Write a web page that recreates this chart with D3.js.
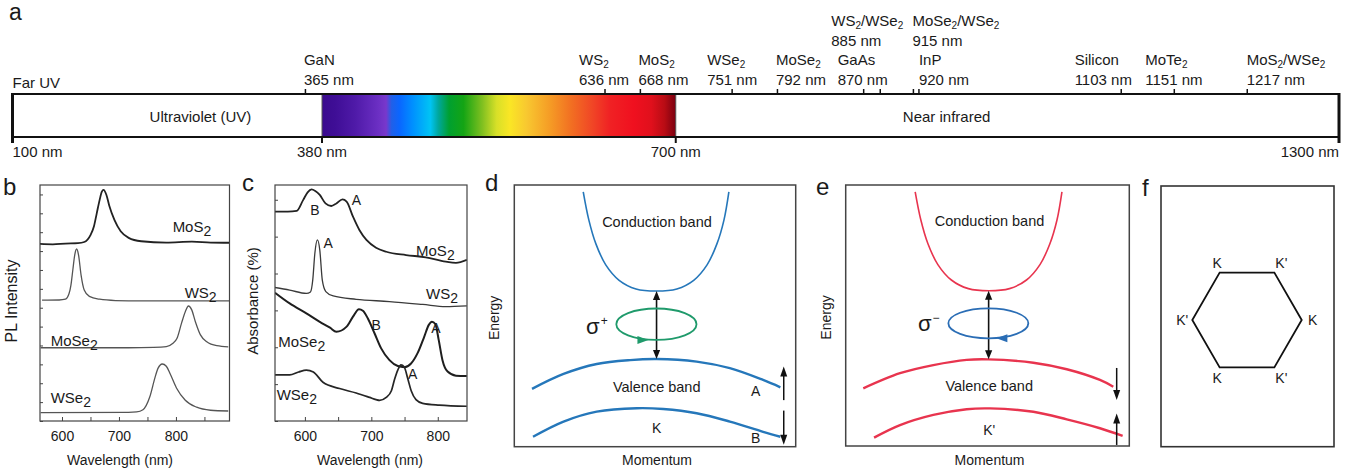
<!DOCTYPE html>
<html><head><meta charset="utf-8">
<script src="https://cdn.jsdelivr.net/npm/d3@7"></script>
<style>
body{margin:0;background:#fff;}
svg text{font-family:"Liberation Sans", Arial, Helvetica, sans-serif; fill:#1a1a1a;}
</style></head><body>
<svg id="fig" width="1353" height="471" xmlns="http://www.w3.org/2000/svg"></svg>
<script>
// ================= DATA =================
// ---- Panel a: electromagnetic spectrum bar ----
const spectrumRangeNm = [100, 1300];
const visibleRangeNm = [380, 700];
const edgeTickNm = [100, 380, 700, 1300];
const edgeTickLabels = ["100 nm", "380 nm", "700 nm", "1300 nm"];
const regionNames = ["Far UV", "Ultraviolet (UV)", "Near infrared"];
const materialNames = ["GaN", "WS2", "MoS2", "WSe2", "MoSe2", "GaAs", "WS2/WSe2", "MoSe2/WSe2", "InP", "Silicon", "MoTe2", "MoS2/WSe2"];
const materialNm = [365, 636, 668, 751, 792, 870, 885, 915, 920, 1103, 1151, 1217];
const visibleStopNm = [380, 392, 410, 430, 438, 443, 450, 462, 478, 485, 495, 508, 525, 538, 550, 565, 587, 605, 625, 640, 662, 678, 690, 700];
const visibleStopColor = ["#3a0a8e", "#3f0e96", "#4f1aa8", "#6a2ec2", "#7838cc", "#2060e8", "#0a66ff", "#0090ff", "#00c4f4", "#00a8a0", "#00a030", "#14a414", "#80c020", "#d8e028", "#fae625", "#f8c830", "#f59a25", "#f27022", "#f04526", "#f02224", "#f0101f", "#e0101c", "#b80c14", "#7a0010"];

// ---- Panel b: PL spectra (wavelength nm, intensity a.u., stacked) ----
const plRangeNm = [561.4, 894];
const plRangeAU = [0, 12.5];
const plTickNm = [600, 650, 700, 750, 800, 850];
const plTickLabelNm = [600, 700, 800];
const plTickAU = [0,1,2,3,4,5,6,7,8,9,10,11,12];
const plNames = ["MoS2", "WS2", "MoSe2", "WSe2"];
const plMoS2 = [[561,9.38],[584,9.36],[606,9.40],[628,9.42],[639,9.48],[650,9.85],[656,10.3],[661,11.0],[666,11.7],[670,12.15],[673,12.24],[678,11.97],[683,11.4],[692,10.65],[703,10.05],[717,9.7],[739,9.52],[783,9.45],[828,9.5],[861,9.45],[894,9.44]];
const plWS2 = [[565,6.40],[595,6.41],[606,6.45],[612.4,6.75],[615.7,7.2],[619,8.0],[622.4,8.8],[625.7,9.11],[629,8.8],[633.5,7.73],[639,6.94],[648,6.6],[666,6.45],[694,6.38],[739,6.36],[894,6.36]];
const plMoSe2 = [[562.5,3.88],[716.6,3.88],[760.9,3.9],[783.1,3.94],[794.2,4.1],[801.9,4.38],[809.7,5.17],[816.4,5.79],[821.9,6.09],[827.5,5.9],[834.1,5.26],[843,4.56],[854.1,4.2],[871.8,3.99],[891.8,3.93]];
const plWSe2 = [[562.5,0.44],[716.6,0.46],[731,0.48],[742.1,0.6],[754.3,1.3],[763.2,2.3],[768.7,2.8],[775.9,3.02],[783.1,2.9],[789.8,2.5],[800.9,1.75],[816.4,1.1],[836.3,0.73],[860.7,0.57],[891.8,0.53]];

// ---- Panel c: absorbance spectra (wavelength nm, absorbance a.u., stacked) ----
const absRangeNm = [555, 844];
const absRangeAU = [0, 6.4];
const absTickNm = [600, 650, 700, 750, 800];
const absTickLabelNm = [600, 700, 800];
const absTickAU = [0,1,2,3,4,5,6];
const absNames = ["MoS2", "WS2", "MoSe2", "WSe2"];
const absMoS2 = [[555,5.68],[574.2,5.68],[587.7,5.70],[597.3,5.99],[604.1,6.2],[609.9,6.28],[615.6,6.24],[622.4,6.13],[631,5.9],[639.7,5.83],[647.4,5.90],[656.5,6.01],[662.8,5.95],[672.4,5.54],[682,5.18],[692.6,4.91],[707.1,4.70],[722.5,4.59],[752.3,4.50],[782.1,4.44],[812,4.32],[827.4,4.29],[843.7,4.37]];
const absWS2 = [[555,3.62],[577.1,3.55],[602.2,3.46],[608.4,3.5],[611.8,3.82],[615,4.55],[618.9,4.91],[622.4,4.64],[626.2,3.82],[631.5,3.51],[642.6,3.39],[677.2,3.30],[727.3,3.24],[777.3,3.16],[812,3.10],[843.7,3.12]];
const absMoSe2 = [[555,3.48],[577.1,3.19],[602.2,2.92],[622.4,2.69],[637.8,2.53],[647.4,2.42],[662.8,2.56],[672.4,2.83],[681.4,3.03],[687.3,2.99],[694.8,2.78],[704.8,2.38],[714.8,1.97],[727.3,1.65],[739.8,1.49],[749.8,1.46],[759.8,1.56],[769.6,1.84],[779.7,2.29],[786.3,2.60],[791.3,2.69],[796.3,2.63],[801.4,2.20],[807.1,1.65],[814.8,1.34],[827.4,1.23],[843.7,1.22]];
const absWSe2 = [[555,1.25],[577.1,1.25],[590.6,1.33],[602.2,1.38],[612.7,1.33],[627.2,1.05],[652.2,0.88],[677.2,0.76],[697.4,0.64],[707.1,0.58],[712.4,0.56],[722.5,0.64],[730.2,0.82],[735,1.13],[739.8,1.38],[744.6,1.52],[749.4,1.47],[754.8,1.15],[760,0.82],[767.2,0.58],[777.3,0.48],[802.3,0.43],[843.7,0.40]];
const absPeakNames = ["B", "A", "A", "B", "A", "A"];

// ---- Panels d, e: band schematics (momentum, energy; arbitrary units) ----
const momentumRange = [-1, 1];
const energyRange = [0, 10];
const conductionBand = [[-0.51,9.74],[-0.47,8.66],[-0.42,7.75],[-0.35,6.95],[-0.255,6.36],[-0.135,6.03],[0.01,5.95],[0.155,6.03],[0.275,6.36],[0.37,6.95],[0.44,7.75],[0.49,8.66],[0.525,9.74]];
const valenceUpperK = [[-0.874,2.21],[-0.65,2.78],[-0.414,3.16],[-0.177,3.31],[0.012,3.35],[0.296,3.25],[0.532,3.0],[0.768,2.55],[0.891,2.27]];
const valenceLowerK = [[-0.867,0.38],[-0.65,0.96],[-0.414,1.34],[-0.13,1.47],[0.059,1.44],[0.296,1.28],[0.532,0.96],[0.768,0.57],[0.891,0.38]];
const valenceUpperKp = [[-0.876,2.21],[-0.617,2.79],[-0.382,3.10],[-0.147,3.30],[0.006,3.32],[0.323,3.19],[0.559,2.94],[0.793,2.53],[0.887,2.27]];
const valenceLowerKp = [[-0.8,0.32],[-0.617,0.80],[-0.382,1.19],[-0.147,1.41],[0.018,1.44],[0.323,1.31],[0.559,1.02],[0.793,0.68],[0.953,0.39]];
const bandNames = ["Conduction band", "Valence band"];
const valleyNames = ["K", "K'"];
const polarization = ["+", "\u2212"];
// circular polarization ellipse: centre momentum, centre energy, half-width, half-height
const ellipseK = [0.01, 4.68, 0.285, 0.60];
const ellipseKp = [0.006, 4.70, 0.282, 0.575];
// spin arrows: [momentum, energy from, energy to]
const spinK = [[0.915, 1.78, 3.06], [0.915, 1.38, 0.07]];
const spinKp = [[0.911, 2.99, 1.76], [0.911, 0.04, 1.25]];
const spinNamesK = ["A", "B"];

// ---- Panel f: Brillouin zone ----
const hexVertices = [[1,0],[0.5,0.866],[-0.5,0.866],[-1,0],[-0.5,-0.866],[0.5,-0.866]];
const hexLabels = ["K", "K'", "K", "K'", "K", "K'"];

// ================= DRAWING =================
const svg = d3.select("#fig");
const defs = svg.append("defs");

function richText(g, str, x, y, size, anchor, subSize, subDy) {
  const t = g.append("text").attr("x", x).attr("y", y).attr("font-size", size).attr("text-anchor", anchor || "start");
  const parts = str.match(/\d+|\D+/g);
  let shifted = false;
  parts.forEach(p => {
    const ts = t.append("tspan").text(p);
    if (/^\d+$/.test(p)) { ts.attr("dy", subDy).attr("font-size", subSize); shifted = true; }
    else if (shifted) { ts.attr("dy", -subDy); shifted = false; }
  });
  return t;
}
function head(g, x, y, dx, dy, len, half, color) {
  const n = Math.hypot(dx, dy); dx /= n; dy /= n;
  const bx = x - dx * len, by = y - dy * len, px = -dy, py = dx;
  g.append("path").attr("d", `M${x},${y}L${bx + px * half},${by + py * half}L${bx - px * half},${by - py * half}Z`).attr("fill", color);
}
function letter(txt, x, y, size) {
  svg.append("text").attr("x", x).attr("y", y).attr("font-size", size || 24).text(txt);
}

// ---------- Panel a ----------
(function () {
  const g = svg.append("g");
  const x = d3.scaleLinear().domain(spectrumRangeNm).range([12.5, 1339]);
  const top = 94, bot = 137;
  const grad = defs.append("linearGradient").attr("id", "vis").attr("gradientUnits", "userSpaceOnUse")
    .attr("x1", x(visibleRangeNm[0])).attr("x2", x(visibleRangeNm[1])).attr("y1", 0).attr("y2", 0);
  visibleStopNm.forEach((nm, i) => grad.append("stop")
    .attr("offset", (nm - visibleRangeNm[0]) / (visibleRangeNm[1] - visibleRangeNm[0]))
    .attr("stop-color", visibleStopColor[i]));
  g.append("rect").attr("x", x(visibleRangeNm[0])).attr("y", top).attr("width", x(visibleRangeNm[1]) - x(visibleRangeNm[0]))
    .attr("height", bot - top).attr("fill", "url(#vis)");
  visibleRangeNm.forEach(v => g.append("line").attr("x1", x(v)).attr("x2", x(v)).attr("y1", top).attr("y2", bot).attr("stroke", "#555").attr("stroke-width", 1));
  [top, bot].forEach(yy => g.append("line").attr("x1", x(spectrumRangeNm[0])).attr("x2", x(spectrumRangeNm[1])).attr("y1", yy).attr("y2", yy).attr("stroke", "#111").attr("stroke-width", 2));
  edgeTickNm.forEach((v, i) => {
    const isEnd = i === 0 || i === edgeTickNm.length - 1;
    g.append("line").attr("x1", x(v)).attr("x2", x(v)).attr("y1", isEnd ? top - 1 : bot).attr("y2", bot + 6)
      .attr("stroke", "#111").attr("stroke-width", isEnd ? 3 : 2);
  });
  materialNm.forEach(v => g.append("line").attr("x1", x(v)).attr("x2", x(v)).attr("y1", top).attr("y2", top - 5).attr("stroke", "#111").attr("stroke-width", 1.5));
  // label layout (px offsets from tick, upper rows flag)
  const labelDx = [-1.5, -26, -2, -25, -1.5, -26, -49, -1, 0, -46.6, -29, -0.6];
  const upper = [0, 0, 0, 0, 0, 0, 1, 1, 0, 0, 0, 0];
  materialNames.forEach((nm, i) => {
    const lx = x(materialNm[i]) + labelDx[i];
    const y1 = upper[i] ? 26 : 65, y2 = upper[i] ? 46 : 85;
    richText(g, nm, lx, y1, 15, "start", 10, 3);
    g.append("text").attr("x", lx).attr("y", y2).attr("font-size", 15).text(materialNm[i] + " nm");
  });
  g.append("text").attr("x", x(spectrumRangeNm[0])).attr("y", 88).attr("font-size", 15).text(regionNames[0]);
  g.append("text").attr("x", x(270)).attr("y", 122).attr("font-size", 15).attr("text-anchor", "middle").text(regionNames[1]);
  g.append("text").attr("x", x(945)).attr("y", 122).attr("font-size", 15).attr("text-anchor", "middle").text(regionNames[2]);
  const anchors = ["start", "middle", "middle", "end"];
  edgeTickNm.forEach((v, i) => g.append("text").attr("x", x(v)).attr("y", 157).attr("font-size", 15).attr("text-anchor", anchors[i]).text(edgeTickLabels[i]));
})();
letter("a", 9, 20, 23);

// ---------- Panels b & c ----------
function spectrumPanel(cfg) {
  const g = svg.append("g");
  const b = cfg.box;
  const x = d3.scaleLinear().domain(cfg.xDom).range([b.x0, b.x1]);
  const y = d3.scaleLinear().domain(cfg.yDom).range([b.y1, b.y0]);
  const cid = "clip" + cfg.id;
  defs.append("clipPath").attr("id", cid).append("rect").attr("x", b.x0).attr("y", b.y0).attr("width", b.x1 - b.x0).attr("height", b.y1 - b.y0);
  const line = d3.line().x(d => x(d[0])).y(d => y(d[1])).curve(d3.curveMonotoneX);
  cfg.series.forEach((s, i) => g.append("path").datum(s).attr("d", line).attr("fill", "none")
    .attr("stroke", cfg.colors[i]).attr("stroke-width", cfg.widths[i]).attr("stroke-linejoin", "round").attr("clip-path", `url(#${cid})`));
  const ax = g.append("g").attr("transform", `translate(0,${b.y1})`)
    .call(d3.axisBottom(x).tickValues(cfg.xTicks).tickSize(-4).tickPadding(10.5).tickFormat(d => cfg.xLabels.includes(d) ? d : ""));
  ax.select(".domain").remove();
  ax.attr("font-family", null).attr("font-size", 14).attr("color", "#444");
  ax.selectAll("text").attr("fill", "#1a1a1a");
  const ay = g.append("g").attr("transform", `translate(${b.x0},0)`)
    .call(d3.axisLeft(y).tickValues(cfg.yTicks).tickSize(-3).tickFormat(""));
  ay.select(".domain").remove();
  ay.attr("color", "#444");
  g.append("rect").attr("x", b.x0).attr("y", b.y0).attr("width", b.x1 - b.x0).attr("height", b.y1 - b.y0)
    .attr("fill", "none").attr("stroke", "#444").attr("stroke-width", 1.2);
  g.append("text").attr("x", cfg.titleX).attr("y", 465).attr("font-size", 14).attr("text-anchor", "middle").text("Wavelength (nm)");
  g.append("text").attr("transform", `translate(${cfg.ylabX},${cfg.ylabY}) rotate(-90)`).attr("font-size", cfg.ylabSize).attr("text-anchor", "middle").text(cfg.ylabel);
  cfg.names.forEach((n, i) => richText(g, n, x(cfg.namePos[i][0]), y(cfg.namePos[i][1]), 15, "start", 14, 4));
  (cfg.peaks || []).forEach((p, i) => g.append("text").attr("x", x(cfg.peakPos[i][0])).attr("y", y(cfg.peakPos[i][1])).attr("font-size", 14).attr("text-anchor", "middle").text(p));
}

spectrumPanel({
  id: "b", box: { x0: 40, x1: 229.5, y0: 185, y1: 421 },
  xDom: plRangeNm, yDom: plRangeAU, xTicks: plTickNm, xLabels: plTickLabelNm, yTicks: plTickAU,
  series: [plMoS2, plWS2, plMoSe2, plWSe2],
  colors: ["#222", "#555", "#555", "#555"], widths: [1.8, 1.3, 1.3, 1.3],
  names: plNames, namePos: [[794.2, 10.0], [815.3, 6.5], [580.2, 3.97], [580.2, 0.93]],
  titleX: 120, ylabel: "PL Intensity", ylabX: 17, ylabY: 301, ylabSize: 16
});
letter("b", 3, 195);

spectrumPanel({
  id: "c", box: { x0: 275, x1: 467, y0: 185, y1: 421 },
  xDom: absRangeNm, yDom: absRangeAU, xTicks: absTickNm, xLabels: absTickLabelNm, yTicks: absTickAU,
  series: [absMoS2, absWS2, absMoSe2, absWSe2],
  colors: ["#222", "#3a3a3a", "#1e1e1e", "#262626"], widths: [1.8, 1.3, 2.0, 1.7],
  names: absNames, namePos: [[767.3, 4.47], [782.3, 3.31], [559.9, 2.0], [557.5, 0.57]],
  peaks: absPeakNames, peakPos: [[615, 5.59], [677.4, 5.86], [634.9, 4.69], [707.3, 2.47], [797.3, 2.39], [762.2, 1.14]],
  titleX: 370, ylabel: "Absorbance (%)", ylabX: 258, ylabY: 301, ylabSize: 15
});
letter("c", 242, 191);

// ---------- Panels d & e ----------
function bandPanel(cfg) {
  const g = svg.append("g");
  const b = cfg.box;
  const x = d3.scaleLinear().domain(momentumRange).range([b.x0, b.x1]);
  const y = d3.scaleLinear().domain(energyRange).range([b.y1, b.y0]);
  g.append("rect").attr("x", b.x0).attr("y", b.y0).attr("width", b.x1 - b.x0).attr("height", b.y1 - b.y0)
    .attr("fill", "none").attr("stroke", "#444").attr("stroke-width", 1.5);
  const line = d3.line().x(d => x(d[0])).y(d => y(d[1])).curve(d3.curveCatmullRom);
  g.append("path").datum(conductionBand).attr("d", line).attr("fill", "none").attr("stroke", cfg.color).attr("stroke-width", 1.6);
  [cfg.upper, cfg.lower].forEach(s => g.append("path").datum(s).attr("d", line).attr("fill", "none").attr("stroke", cfg.color).attr("stroke-width", 2.4));
  // transition arrow
  const cMin = d3.least(conductionBand, d => d[1]);
  const vMax = d3.greatest(cfg.upper, d => d[1]);
  const ax = x(cMin[0]) + 0.5 * (x(vMax[0]) - x(cMin[0]));
  const yTop = y(cMin[1]), yBot = y(vMax[1]);
  g.append("line").attr("x1", ax).attr("x2", ax).attr("y1", yTop + 8).attr("y2", yBot - 8).attr("stroke", "#111").attr("stroke-width", 1.6);
  head(g, ax, yTop, 0, -1, 9, 3.6, "#111");
  head(g, ax, yBot, 0, 1, 9, 3.6, "#111");
  // polarization ellipse
  const [em, ee, erx, ery] = cfg.ellipse;
  const cx = x(em), cy = y(ee), rx = x(em + erx) - cx, ry = y(ee - ery) - cy;
  g.append("ellipse").attr("cx", cx).attr("cy", cy).attr("rx", rx).attr("ry", ry).attr("fill", "none").attr("stroke", cfg.polColor).attr("stroke-width", 1.8);
  head(g, cx + cfg.headDir * -8, cy + ry, cfg.headDir, 0, 11, 4, cfg.polColor);
  // sigma
  const st = g.append("text").attr("x", x(cfg.sigmaPos[0])).attr("y", y(cfg.sigmaPos[1])).attr("font-size", 22);
  st.append("tspan").text("\u03c3");
  st.append("tspan").attr("font-size", 12).attr("dy", -9).attr("dx", 1).text(cfg.pol);
  // spin arrows
  cfg.spin.forEach(s => {
    const sx = x(s[0]), y1 = y(s[1]), y2 = y(s[2]);
    const dir = Math.sign(y2 - y1);
    g.append("line").attr("x1", sx).attr("x2", sx).attr("y1", y1).attr("y2", y2 - dir * 8).attr("stroke", "#111").attr("stroke-width", 1.5);
    head(g, sx, y2, 0, dir, 10, 3.5, "#111");
  });
  // texts
  g.append("text").attr("x", x(0.014)).attr("y", y(8.41)).attr("font-size", 14.5).attr("text-anchor", "middle").text(bandNames[0]);
  g.append("text").attr("x", x(0.012)).attr("y", y(2.1)).attr("font-size", 14.5).attr("text-anchor", "middle").text(bandNames[1]);
  g.append("text").attr("x", x(0.012)).attr("y", y(cfg.valleyE)).attr("font-size", 14).attr("text-anchor", "middle").text(cfg.valley);
  (cfg.spinNames || []).forEach((n, i) => g.append("text").attr("x", x(0.716)).attr("y", y([1.93, 0.13][i])).attr("font-size", 14).attr("text-anchor", "middle").text(n));
  g.append("text").attr("x", (b.x0 + b.x1) / 2 + 2).attr("y", 465).attr("font-size", 14).attr("text-anchor", "middle").text("Momentum");
  g.append("text").attr("transform", `translate(${b.x0 - 15},${(b.y0 + b.y1) / 2 + 2}) rotate(-90)`).attr("font-size", 14).attr("text-anchor", "middle").text("Energy");
}

bandPanel({
  box: { x0: 514.3, x1: 795.7, y0: 185, y1: 446.7 }, color: "#2577ba",
  upper: valenceUpperK, lower: valenceLowerK, ellipse: ellipseK, polColor: "#1f9a6b", headDir: 1,
  pol: polarization[0], sigmaPos: [-0.49, 4.3], spin: spinK, spinNames: spinNamesK,
  valley: valleyNames[0], valleyE: 0.51
});
letter("d", 485, 191);

bandPanel({
  box: { x0: 845.7, x1: 1129.3, y0: 185, y1: 446 }, color: "#e8344e",
  upper: valenceUpperKp, lower: valenceLowerKp, ellipse: ellipseKp, polColor: "#2a6db5", headDir: -1,
  pol: polarization[1], sigmaPos: [-0.49, 4.4], spin: spinKp,
  valley: valleyNames[1], valleyE: 0.42
});
letter("e", 816, 195);

// ---------- Panel f ----------
(function () {
  const g = svg.append("g");
  g.append("rect").attr("x", 1161).attr("y", 186).attr("width", 173).attr("height", 260.7)
    .attr("fill", "none").attr("stroke", "#333").attr("stroke-width", 1.6);
  const r = 54.7, cx = 1247, cy = 320;
  const kx = d3.scaleLinear().domain([-1, 1]).range([cx - r, cx + r]);
  const ky = d3.scaleLinear().domain([-1, 1]).range([cy + r, cy - r]);
  g.append("path").attr("d", d3.line().x(d => kx(d[0])).y(d => ky(d[1]))(hexVertices) + "Z")
    .attr("fill", "none").attr("stroke", "#111").attr("stroke-width", 1.8).attr("stroke-linejoin", "miter");
  const off = [[11, 5], [7, -5], [-2.5, -5], [-10, 5], [-2.5, 16], [7, 16]];
  hexVertices.forEach((v, i) => g.append("text").attr("x", kx(v[0]) + off[i][0]).attr("y", ky(v[1]) + off[i][1])
    .attr("font-size", 14).attr("text-anchor", "middle").text(hexLabels[i]));
})();
letter("f", 1142, 196);
</script>
</body></html>
